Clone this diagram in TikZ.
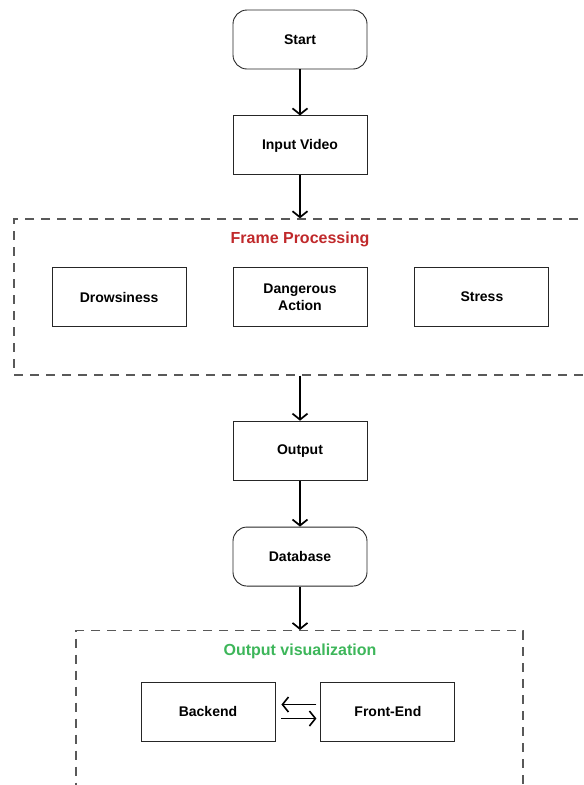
\documentclass[tikz,border=0pt]{standalone}
\usepackage{fontspec}
\setsansfont{Liberation Sans}
\usetikzlibrary{arrows.meta,positioning}
\definecolor{framered}{HTML}{C0292B}
\definecolor{visgreen}{HTML}{3DB65A}
\tikzstyle{flow} = [draw,line width=1.7pt,-{Straight Barb[length=6pt,width=15pt]}]

\begin{document}
\begin{tikzpicture}[x=1pt,y=1pt,node distance=46pt,
  font=\sffamily\bfseries\fontsize{14}{17}\selectfont,
  main box/.style={draw=black!85,line width=0.9pt,minimum width=134pt,minimum height=59pt,inner sep=0pt,align=center},
  round box/.style={main box,rounded corners=14pt},
  group box/.style={draw=black!65,line width=1.4pt,dash pattern=on 9pt off 7pt,inner sep=0pt},
  group label/.style={font=\sffamily\bfseries\fontsize{16}{18}\selectfont}]

  \useasboundingbox (0,0) rectangle (584,-785);

  \node[round box] (start) at (300,-39.5) {Start};
  \node[main box] (input) [below=of start] {Input Video};

  % frame processing group
  \node[group box,minimum width=572pt,minimum height=156pt] (frame) at (300,-297) {};
  \node[group label,text=framered] (framelabel) at (300,-239) {Frame Processing};
  \node[main box] (danger) at (300,-297) {Dangerous\\Action};
  \node[main box] (drowsy) [left=of danger] {Drowsiness};
  \node[main box] (stress) [right=47pt of danger] {Stress};

  \node[main box] (output) [below=45pt of frame] {Output};
  \node[round box] (database) [below=of output] {Database};

  % output visualization group
  \node[group box,minimum width=447pt,minimum height=170pt,anchor=north] (visual) at (299.5,-630) {};
  \node[group label,text=visgreen] (visuallabel) at (300,-651) {Output visualization};
  \node[main box] (backend) at (208,-711.5) {Backend};
  \node[main box] (frontend) [right=45pt of backend] {Front-End};

  \path
    (start) edge[flow] (input)
    (input.south) edge[flow] (input.south |- frame.north)
    (output.north |- frame.south) edge[flow] (output.north)
    (output) edge[flow] (database)
    (database.south) edge[flow] (database.south |- visual.north);

  \draw[flow,line width=1.6pt] ([xshift=-4pt,yshift=7pt]frontend.west) -- ([xshift=6pt,yshift=7pt]backend.east);
  \draw[flow,line width=1.6pt] ([xshift=6pt,yshift=-7pt]backend.east) -- ([xshift=-4pt,yshift=-7pt]frontend.west);

\end{tikzpicture}
\end{document}
